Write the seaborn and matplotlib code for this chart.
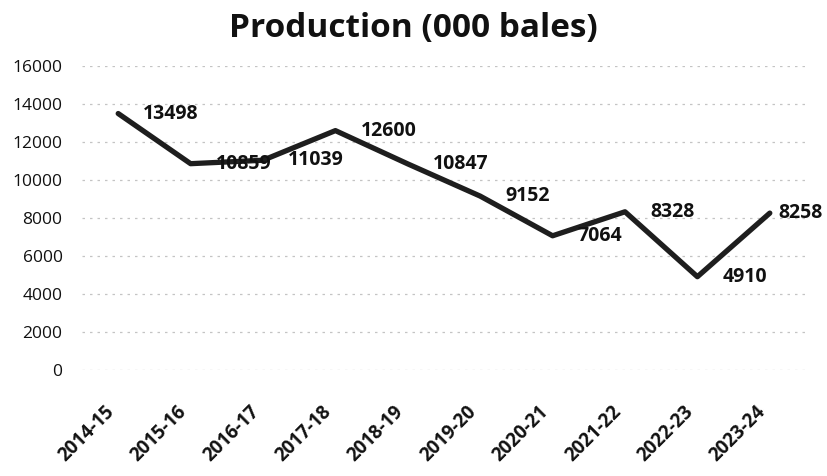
import matplotlib
matplotlib.use("Agg")
import matplotlib.pyplot as plt
import matplotlib.transforms as mtransforms
import seaborn as sns
import pandas as pd

seasons = ["2014-15", "2015-16", "2016-17", "2017-18", "2018-19",
           "2019-20", "2020-21", "2021-22", "2022-23", "2023-24"]
production = [13498, 10859, 11039, 12600, 10847, 9152, 7064, 8328, 4910, 8258]
y_ticks = [0, 2000, 4000, 6000, 8000, 10000, 12000, 14000, 16000]
title = "Production (000 bales)"

df = pd.DataFrame({"Season": seasons, "Production": production})

sns.set_style("white")
plt.rcParams["font.family"] = ["Open Sans", "DejaVu Sans"]

fig = plt.figure(figsize=(8.27, 4.76), dpi=100)
ax = fig.add_axes([82 / 827, 106 / 476, 724 / 827, 304 / 476])

sns.lineplot(data=df, x="Season", y="Production", ax=ax, color="#1e1e1e",
             linewidth=3.8, sort=False, zorder=3)

ax.set_xlim(-0.5, len(seasons) - 0.5)
ax.set_ylim(0, 16000)
ax.set_yticks(y_ticks)
ax.set_yticklabels([str(v) for v in y_ticks], fontsize=12.5, color="#111111")
for v in y_ticks:
    ax.axhline(v, color="#c4c4c4", linewidth=0.9, linestyle=(0, (2, 4)), zorder=1)

ax.set_xticks(range(len(seasons)))
ax.set_xticklabels(seasons, rotation=45, ha="right", va="top", fontsize=13.5,
                   fontweight="bold", color="#111111")
offset = mtransforms.ScaledTranslation(4 / 100, 0, fig.dpi_scale_trans)
for lab in ax.get_xticklabels():
    lab.set_transform(lab.get_transform() + offset)

ax.tick_params(axis="y", length=0, pad=14)
ax.tick_params(axis="x", length=0, pad=23)
ax.set_xlabel("")
ax.set_ylabel("")
for s in ax.spines.values():
    s.set_visible(False)

n = len(seasons)
for i, (s, v) in enumerate(zip(seasons, production)):
    dx = 6 if i == n - 1 else 18
    ax.annotate(f"{v}", xy=(i, v), xytext=(dx, 0), textcoords="offset points",
                ha="left", va="center", fontsize=14, fontweight="bold",
                color="#111111", zorder=4)

fig.text(0.5, 1 - 37 / 476, title, ha="center", va="baseline",
         fontsize=24, fontweight="bold", color="#111111")

fig.savefig("out.png", dpi=100)
